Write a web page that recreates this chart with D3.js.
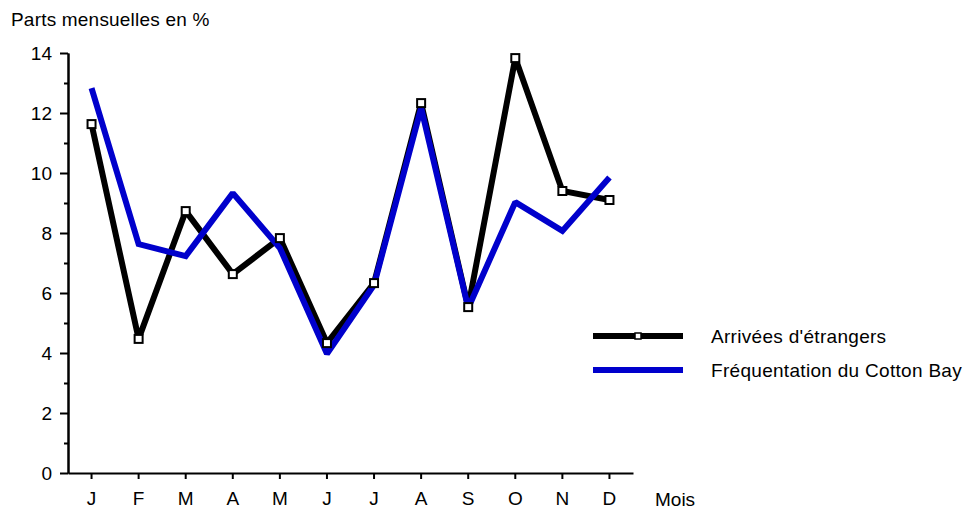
<!DOCTYPE html>
<html>
<head>
<meta charset="utf-8">
<script src="https://cdn.jsdelivr.net/npm/d3@7"></script>
<style>
    body { margin: 0; background: #fff; }
    text { font-family: "Liberation Sans", Arial, sans-serif; fill: #000; }
</style>
</head>
<body>
<svg id="chart" width="965" height="512"></svg>
<script>
// Données
const mois = ['J', 'F', 'M', 'A', 'M', 'J', 'J', 'A', 'S', 'O', 'N', 'D'];
const arrivees = [11.63, 4.47, 8.73, 6.63, 7.83, 4.33, 6.33, 12.33, 5.53, 13.83, 9.4, 9.1];
const cottonBay = [12.83, 7.63, 7.23, 9.33, 7.5, 3.97, 6.27, 12.17, 5.5, 9.03, 8.07, 9.85];
const yTicks = [0, 2, 4, 6, 8, 10, 12, 14];
const seriesNames = ['Arrivées d\'étrangers', 'Fréquentation du Cotton Bay'];

const svg = d3.select('#chart');

const mLeft = 68, mRight = 633, mTop = 53, mBottom = 473;
const fontSize = 19;

const x = d3.scaleBand().domain(d3.range(mois.length)).range([mLeft, mRight]);
const y = d3.scaleLinear().domain([0, 14]).range([mBottom, mTop]);

// Axe Y
svg.append('g').attr('transform', 'translate(' + mLeft + ',0)')
    .call(d3.axisLeft(y).tickValues(yTicks).tickSize(8).tickSizeOuter(0).tickPadding(8));
svg.append('g').attr('transform', 'translate(' + mLeft + ',0)')
    .call(d3.axisLeft(y).tickValues(d3.range(1, 14, 2)).tickSize(4).tickSizeOuter(0).tickFormat(''));

// Axe X
svg.append('g').attr('transform', 'translate(0,' + mBottom + ')')
    .call(d3.axisBottom(x).tickFormat((d) => mois[d]).tickSize(6).tickSizeOuter(0).tickPadding(13));

svg.selectAll('.domain').attr('stroke', '#000').attr('stroke-width', 2);
svg.selectAll('.tick line').attr('stroke', '#000').attr('stroke-width', 2);
svg.selectAll('.tick text').attr('font-size', fontSize).attr('font-family', '"Liberation Sans", Arial, sans-serif');

svg.append('text').attr('x', 11).attr('y', 26).attr('font-size', fontSize)
    .attr('letter-spacing', 0.2).text('Parts mensuelles en %');
svg.append('text').attr('x', 655).attr('y', 506).attr('font-size', fontSize).text('Mois');

const cx = (i) => x(i) + x.bandwidth() / 2;
const line = d3.line().x((d, i) => cx(i)).y((d) => y(d));

// Courbes
svg.append('path').datum(arrivees).attr('d', line)
    .attr('fill', 'none').attr('stroke', '#000').attr('stroke-width', 6)
    .attr('stroke-linejoin', 'miter').attr('stroke-miterlimit', 1.5);
svg.append('path').datum(cottonBay).attr('d', line)
    .attr('fill', 'none').attr('stroke', '#0000cc').attr('stroke-width', 6)
    .attr('stroke-linejoin', 'miter').attr('stroke-miterlimit', 1.5);

// Marqueurs carrés
svg.selectAll('.sq').data(arrivees).enter().append('rect')
    .attr('x', (d, i) => cx(i) - 4).attr('y', (d) => y(d) - 4)
    .attr('width', 8).attr('height', 8)
    .attr('fill', '#fff').attr('stroke', '#000').attr('stroke-width', 2);

// Légende
const legendY = [336, 370];
const legendColors = ['#000', '#0000cc'];
seriesNames.forEach((name, k) => {
    svg.append('line').attr('x1', 593).attr('x2', 683)
        .attr('y1', legendY[k]).attr('y2', legendY[k])
        .attr('stroke', legendColors[k]).attr('stroke-width', 6);
    svg.append('text').attr('x', 711).attr('y', legendY[k] + 7).attr('font-size', fontSize)
        .attr('letter-spacing', 0.3).text(name);
});
svg.append('rect').attr('x', 635).attr('y', 333).attr('width', 6).attr('height', 6)
    .attr('fill', '#fff').attr('stroke', '#000').attr('stroke-width', 1.5);
</script>
</body>
</html>
